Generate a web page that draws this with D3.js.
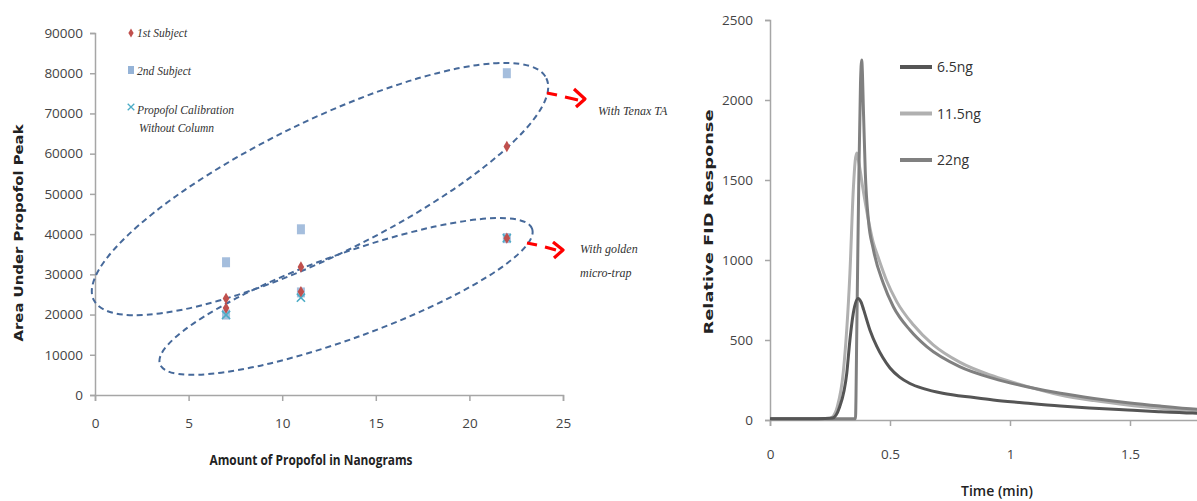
<!DOCTYPE html>
<html>
<head>
<meta charset="utf-8">
<script src="https://cdn.jsdelivr.net/npm/d3@7"></script>
<style>
  body { margin: 0; background: #fff; }
  svg { display: block; }
  .axis path, .axis line { stroke: #a6a6a6; stroke-width: 1.5; }
  .axis text { font-family: 'Open Sans', sans-serif; font-size: 13.5px; fill: #444; }
  .note { font-family: 'Liberation Serif', serif; font-style: italic; font-size: 12px; fill: #333; }
</style>
</head>
<body>
<div id="canvas"></div>
<script>
// left chart: peak area vs amount of propofol
var amountNg = [7, 11, 22];
var subject1Tenax = [24000, 31800, 61800];
var subject1Golden = [21600, 25700, 39000];
var subject2Tenax = [33000, 41200, 80000];
var subject2Golden = [20000, 25500, 39000];
var calibration = [19900, 24200, 39000];
var yTicksLeft = [0, 10000, 20000, 30000, 40000, 50000, 60000, 70000, 80000, 90000];
var xTicksLeft = [0, 5, 10, 15, 20, 25];

// right chart: FID traces (time in min, response)
var trace65t = [0, 0.1, 0.2, 0.26, 0.29, 0.32, 0.333, 0.347, 0.367, 0.38, 0.39, 0.417, 0.445, 0.47, 0.5, 0.54, 0.583, 0.64, 0.72, 0.85, 0.93, 1.05, 1.21, 1.33, 1.49, 1.62, 1.76, 1.9];
var trace65r = [8, 8, 8, 12, 81, 294, 500, 667, 760, 735, 690, 560, 460, 390, 325, 268, 228, 196, 167, 140, 125, 108, 87, 75, 62, 52, 43, 38];
var trace115t = [0, 0.1, 0.2, 0.25, 0.26, 0.28, 0.305, 0.333, 0.347, 0.355, 0.362, 0.37, 0.39, 0.41, 0.43, 0.45, 0.486, 0.528, 0.597, 0.68, 0.79, 0.93, 1.07, 1.21, 1.35, 1.49, 1.625, 1.78, 1.9];
var trace115r = [8, 8, 8, 10, 18, 81, 294, 919, 1437, 1620, 1669, 1610, 1420, 1250, 1110, 1020, 870, 740, 595, 470, 362, 275, 210, 156, 121, 94, 73, 52, 45];
var trace22t = [0, 0.1, 0.2, 0.3, 0.356, 0.362, 0.37, 0.377, 0.382, 0.39, 0.397, 0.41, 0.43, 0.472, 0.514, 0.583, 0.653, 0.79, 0.93, 1.07, 1.21, 1.35, 1.49, 1.625, 1.78, 1.9];
var trace22r = [8, 8, 8, 8, 8, 600, 1500, 2100, 2250, 1900, 1550, 1250, 1070, 854, 708, 562, 458, 333, 260, 208, 167, 135, 108, 87, 67, 58];
var traceNames = ['6.5ng', '11.5ng', '22ng'];
var traceColors = ['#555555', '#b0b0b0', '#808080'];
var yTicksRight = [0, 500, 1000, 1500, 2000, 2500];
var xTicksRight = [0, 0.5, 1, 1.5];

var W = 1197, H = 501;
var svg = d3.select('#canvas').append('svg')
    .attr('width', W)
    .attr('height', H);

// ---------- left chart ----------
var xL = d3.scaleLinear().domain([0, 25]).range([95, 563]);
var yL = d3.scaleLinear().domain([0, 90000]).range([395, 33]);

svg.append('g')
    .attr('class', 'axis')
    .attr('transform', 'translate(' + xL(0) + ',0)')
    .call(d3.axisLeft(yL).tickValues(yTicksLeft).tickFormat(d3.format('d')).tickSize(5).tickPadding(7));

svg.append('g')
    .attr('class', 'axis')
    .attr('transform', 'translate(0,' + yL(0) + ')')
    .call(d3.axisBottom(xL).tickValues(xTicksLeft).tickSize(6).tickPadding(17));

svg.append('text')
    .attr('x', 311).attr('y', 465)
    .attr('text-anchor', 'middle')
    .attr('textLength', 203).attr('lengthAdjust', 'spacingAndGlyphs')
    .style('font-family', "'Open Sans', sans-serif").style('font-weight', 'bold').style('font-size', '13.5px').style('fill', '#222')
    .text('Amount of Propofol in Nanograms');

svg.append('text')
    .attr('transform', 'translate(23,233) rotate(-90)')
    .attr('text-anchor', 'middle')
    .attr('textLength', 217).attr('lengthAdjust', 'spacingAndGlyphs')
    .style('font-family', "'DejaVu Sans', sans-serif").style('font-weight', 'bold').style('font-size', '12.5px').style('fill', '#222')
    .text('Area Under Propofol Peak');

// dashed ellipses (annotation)
var ellipses = [
    {cx: 12.02, cy: 51200, rx: 252, ry: 67, rot: -26.1},
    {cx: 13.41, cy: 24500, rx: 198, ry: 42, rot: -20}
];
svg.selectAll('.ring')
    .data(ellipses)
    .enter()
    .append('ellipse')
    .attr('class', 'ring')
    .attr('transform', function(d){ return 'translate(' + xL(d.cx) + ',' + yL(d.cy) + ') rotate(' + d.rot + ')'; })
    .attr('rx', function(d){ return d.rx; })
    .attr('ry', function(d){ return d.ry; })
    .attr('fill', 'none')
    .attr('stroke', '#46699a')
    .attr('stroke-width', 2)
    .attr('stroke-dasharray', '6,4');

// points
function pts(vals){ return amountNg.map(function(x, i){ return {x: x, y: vals[i]}; }); }

var squares = pts(subject2Tenax).concat(pts(subject2Golden));
svg.selectAll('.sq')
    .data(squares)
    .enter()
    .append('rect')
    .attr('class', 'sq')
    .attr('x', function(d){ return xL(d.x) - 4; })
    .attr('y', function(d){ return yL(d.y) - 5; })
    .attr('width', 8).attr('height', 10)
    .attr('fill', '#95b3d7').attr('fill-opacity', 0.85);

var cross = d3.symbol().type(d3.symbolX).size(45);
svg.selectAll('.xm')
    .data(pts(calibration))
    .enter()
    .append('path')
    .attr('class', 'xm')
    .attr('transform', function(d){ return 'translate(' + xL(d.x) + ',' + yL(d.y) + ')'; })
    .attr('d', cross)
    .attr('fill', 'none').attr('stroke', '#4bacc6').attr('stroke-width', 1.6);

var diamond = d3.symbol().type(d3.symbolDiamond).size(38);
svg.selectAll('.dm')
    .data(pts(subject1Tenax).concat(pts(subject1Golden)))
    .enter()
    .append('path')
    .attr('class', 'dm')
    .attr('transform', function(d){ return 'translate(' + xL(d.x) + ',' + yL(d.y) + ')'; })
    .attr('d', diamond)
    .attr('fill', '#c0504d');

// legend (left)
var legL = svg.append('g');
legL.append('path').attr('transform', 'translate(131,33)').attr('d', d3.symbol().type(d3.symbolDiamond).size(24)).attr('fill', '#c0504d');
legL.append('rect').attr('x', 128).attr('y', 66).attr('width', 6).attr('height', 8).attr('fill', '#95b3d7');
legL.append('path').attr('transform', 'translate(131,107)').attr('d', d3.symbol().type(d3.symbolX).size(30)).attr('fill', 'none').attr('stroke', '#4bacc6').attr('stroke-width', 1.3);
var legTexts = [['1st Subject', 37], ['2nd Subject', 75], ['Propofol Calibration', 114], ['Without Column', 132]];
legL.selectAll('text')
    .data(legTexts)
    .enter()
    .append('text')
    .attr('class', 'note')
    .attr('x', function(d, i){ return i == 3 ? 139 : 137; })
    .attr('y', function(d){ return d[1]; })
    .style('font-size', '11.5px')
    .text(function(d){ return d[0]; });

// red arrows + notes
var arrowPaths = [
    'M547,93 L557,95 M565,97 L578,100 M574,89 L585,99 L576,107',
    'M527,243 L537,245 M545,247 L556,250 M553,242 L563,250 L554,258'
];
svg.selectAll('.arrow')
    .data(arrowPaths)
    .enter()
    .append('path')
    .attr('class', 'arrow')
    .attr('d', function(d){ return d; })
    .attr('fill', 'none')
    .attr('stroke', '#ff0000')
    .attr('stroke-width', 3.2)
    .attr('stroke-linejoin', 'round');

svg.append('text').attr('class', 'note').attr('x', 598).attr('y', 115).text('With Tenax TA');
svg.append('text').attr('class', 'note').attr('x', 580).attr('y', 253).text('With golden');
svg.append('text').attr('class', 'note').attr('x', 580).attr('y', 277).text('micro-trap');

// ---------- right chart ----------
var xR = d3.scaleLinear().domain([0, 2]).range([770, 1250]);
var yR = d3.scaleLinear().domain([0, 2500]).range([420, 20]);

svg.append('g')
    .attr('class', 'axis')
    .attr('transform', 'translate(' + xR(0) + ',0)')
    .call(d3.axisLeft(yR).tickValues(yTicksRight).tickFormat(d3.format('d')).tickSize(5).tickPadding(12));

svg.append('g')
    .attr('class', 'axis')
    .attr('transform', 'translate(0,' + yR(0) + ')')
    .call(d3.axisBottom(xR).tickValues(xTicksRight).tickFormat(function(d){ return String(d); }).tickSize(6).tickPadding(23));

var traces = [
    {t: trace65t, r: trace65r},
    {t: trace115t, r: trace115r},
    {t: trace22t, r: trace22r}
];
var line = d3.line()
    .x(function(d){ return xR(d[0]); })
    .y(function(d){ return yR(d[1]); })
    .curve(d3.curveMonotoneX);

// draw light one first so darker ones sit on top, like the original
[1, 2, 0].forEach(function(i){
    svg.append('path')
        .datum(d3.zip(traces[i].t, traces[i].r))
        .attr('d', line)
        .attr('fill', 'none')
        .attr('stroke', traceColors[i])
        .attr('stroke-width', 3)
        .attr('stroke-linejoin', 'round');
});

// legend (right)
var legR = svg.selectAll('.legR')
    .data(traceNames)
    .enter()
    .append('g')
    .attr('class', 'legR')
    .attr('transform', function(d, i){ return 'translate(900,' + (67 + i * 46.5) + ')'; });
legR.append('line')
    .attr('x1', 0).attr('x2', 32)
    .attr('stroke', function(d, i){ return traceColors[i]; })
    .attr('stroke-width', 4);
legR.append('text')
    .attr('x', 37).attr('y', 5)
    .style('font-family', "'Open Sans', sans-serif").style('font-size', '14px').style('fill', '#333')
    .text(function(d){ return d; });

svg.append('text')
    .attr('x', 997).attr('y', 496)
    .attr('text-anchor', 'middle')
    .style('font-family', "'Open Sans', sans-serif").style('font-weight', 600).style('font-size', '14px').style('fill', '#222')
    .text('Time (min)');

svg.append('text')
    .attr('transform', 'translate(713,222) rotate(-90)')
    .attr('text-anchor', 'middle')
    .attr('textLength', 225).attr('lengthAdjust', 'spacingAndGlyphs')
    .style('font-family', "'DejaVu Sans', sans-serif").style('font-weight', 'bold').style('font-size', '12.5px').style('fill', '#222')
    .text('Relative FID Response');
</script>
</body>
</html>
